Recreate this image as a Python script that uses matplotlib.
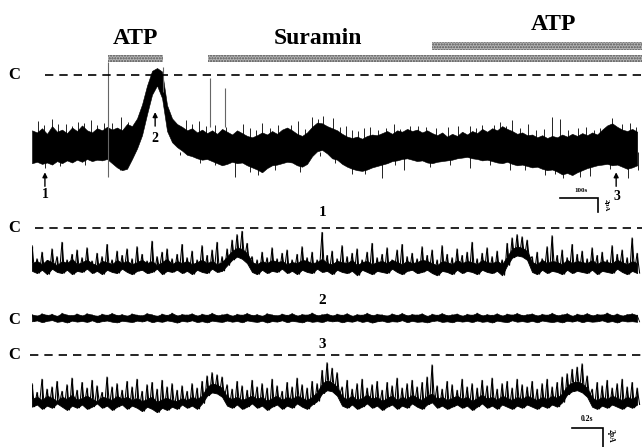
import numpy as np
import matplotlib
matplotlib.use("Agg")
import matplotlib.pyplot as plt

# ---------------- data (pA, closed level C = 0) ----------------
# long recording, sampled every 13.16 s
top_dt = 13.16
top_hi = [-7.9,-8.2,-7.6,-8.4,-7.3,-8.1,-7.8,-8.3,-7.5,-8.0,
          -7.2,-7.9,-8.2,-7.6,-7.9,-7.4,-7.8,-7.5,-7.9,-7.0,
          -7.3,-6.2,-4.2,-1.5,0.6,1.0,0.5,-4.3,-6.2,-7.0,
          -7.4,-7.9,-7.6,-8.2,-7.8,-8.3,-7.9,-8.4,-7.7,-8.1,
          -8.5,-7.9,-8.3,-8.7,-8.9,-8.6,-8.2,-8.5,-8.0,-8.4,
          -7.8,-7.5,-7.9,-8.4,-8.7,-8.2,-7.4,-6.8,-6.9,-7.3,
          -7.6,-7.9,-8.4,-8.8,-9.0,-8.8,-9.1,-8.7,-8.5,-8.6,
          -8.3,-8.0,-8.4,-7.9,-8.1,-7.7,-8.0,-7.8,-8.2,-7.9,
          -8.3,-8.6,-8.2,-8.8,-8.4,-8.7,-8.1,-8.5,-8.0,-8.3,
          -7.7,-8.1,-7.6,-7.9,-7.3,-7.7,-8.0,-8.4,-8.2,-8.6,
          -8.5,-8.9,-8.6,-9.0,-8.7,-8.9,-8.5,-8.8,-8.4,-8.7,
          -8.3,-8.6,-8.2,-8.5,-7.8,-7.2,-6.9,-7.4,-7.8,-8.0,
          -7.7,-8.1]
top_lo = [-12.6,-12.4,-12.7,-12.5,-12.8,-12.3,-12.6,-12.2,-12.5,-12.1,
          -12.4,-12.0,-12.3,-12.1,-12.2,-12.0,-12.6,-13.2,-13.6,-13.4,
          -12.0,-10.5,-8.6,-5.6,-2.8,-1.5,-3.3,-8.0,-9.6,-10.3,
          -10.8,-11.4,-11.6,-11.9,-12.1,-12.0,-12.3,-12.6,-12.9,-12.7,
          -12.4,-12.6,-12.5,-12.9,-13.2,-13.5,-13.9,-13.3,-12.9,-12.8,
          -12.6,-12.4,-12.5,-12.9,-13.1,-12.7,-11.6,-10.9,-10.7,-11.2,
          -11.9,-12.1,-12.7,-13.1,-13.4,-13.6,-13.7,-13.5,-13.2,-13.0,
          -12.8,-12.6,-12.3,-12.2,-12.0,-11.9,-12.1,-12.3,-12.2,-12.5,
          -12.6,-12.4,-12.3,-12.2,-12.1,-11.9,-11.8,-11.7,-11.9,-12.0,
          -12.2,-12.1,-12.3,-12.5,-12.6,-12.4,-12.7,-12.9,-12.8,-13.0,
          -13.2,-13.1,-13.4,-13.6,-13.5,-13.8,-14.2,-14.0,-14.3,-13.9,
          -13.6,-13.3,-13.1,-12.9,-12.8,-12.7,-12.9,-12.8,-13.1,-13.4,
          -13.2,-12.9]
up_spike_t = [16,53,89,121,155,190,234,405,440,555,605,647,700,737,766,792,826,
              889,953,1016,1095,1153,1184,1232,1263,1305,1369,1390,1458,1526,1574,
              32,68,105,137,171,211,253,421,458,482,511,574,590,626,663,682,718,753,
              811,842,858,874,911,932,968,995,1037,1063,1121,1169,1216,1248,1284,1327,
              1348,1411,1437,1479,1495,1553,1590]
up_spike_v = [-6.6,-6.3,-7.0,-6.7,-6.4,-6.9,-6.0,-6.4,-6.6,-7.0,-6.9,-7.1,-6.6,-6.0,-5.9,-6.1,-7.3,
              -7.4,-7.0,-7.3,-7.4,-7.3,-7.1,-6.7,-6.4,-7.0,-6.0,-6.3,-7.4,-6.1,-6.9,
              -7.2,-7.0,-7.3,-6.9,-7.1,-6.8,-6.7,-7.0,-7.3,-7.1,-7.4,-7.6,-7.9,-7.5,-7.8,-7.2,-7.7,-6.3,
              -7.4,-7.9,-8.0,-7.6,-7.8,-7.5,-7.7,-7.3,-7.4,-7.6,-7.3,-7.5,-7.1,-7.3,-7.6,-7.9,
              -7.7,-7.8,-7.5,-7.9,-7.6,-7.0,-7.4]
dn_spike_t = [34,232,534,595,705,842,921,979,1153,1258,1350,1397,1469,1569,
              74,139,390,442,482,574,640,758,797,876,955,1048,1100,1205,1298,1376,1442,1521,1595]
dn_spike_v = [-13.3,-13.6,-14.6,-14.3,-13.9,-14.1,-14.7,-13.6,-13.3,-13.6,-14.3,-14.7,-14.4,-14.7,
              -13.0,-12.9,-11.4,-12.6,-12.9,-13.8,-13.6,-11.6,-12.6,-14.2,-12.9,-13.1,-12.8,-12.9,
              -13.5,-14.2,-14.5,-13.4,-13.5]
artifact_t = [200,345,468,508]
artifact_top = [1.9,1.1,-0.4,-1.9]
artifact_bot = [-14.6,-2.4,-7.4,-7.4]

drugs = ["ATP", "Suramin", "ATP"]
drug_on = [200, 463, 1052]
drug_off = [345, 1605, 1605]

# expanded sweeps, sampled every 0.0323 s
sw_dt = 0.03226
sw1_hi = [-1.6,-2.8,-2.2,-3.0,-1.9,-2.6,-1.3,-2.9,-2.4,-2.0,
          -2.7,-1.8,-3.0,-2.3,-2.6,-1.5,-2.9,-2.1,-2.5,-1.9,
          -2.8,-1.7,-2.4,-3.0,-1.2,-2.6,-2.2,-1.9,-2.8,-2.4,
          -1.5,-2.7,-2.1,-2.9,-1.6,-2.5,-2.0,-1.3,-2.6,-1.9,
          -1.1,-0.6,-0.3,-1.4,-2.6,-2.9,-2.2,-2.7,-1.8,-2.8,
          -2.3,-2.0,-2.9,-2.4,-1.7,-2.7,-2.2,-2.9,-0.4,-2.5,
          -2.1,-2.8,-1.6,-2.6,-2.3,-1.9,-2.9,-2.2,-1.4,-2.7,
          -2.4,-1.8,-2.9,-2.0,-1.5,-2.6,-2.3,-2.8,-1.7,-2.5,
          -2.0,-2.9,-1.6,-2.4,-2.7,-1.9,-2.5,-2.2,-1.3,-2.8,
          -2.3,-1.8,-2.6,-2.1,-2.9,-1.4,-0.9,-0.6,-0.8,-1.1,
          -2.6,-2.2,-2.8,-1.7,-0.7,-2.5,-2.0,-2.7,-1.5,-2.4,
          -2.1,-2.8,-1.8,-2.5,-2.2,-2.9,-1.6,-2.4,-2.0,-2.7,
          -0.9,-2.3]
sw1_mid = [-3.2,-3.0,-3.3,-2.9,-3.1,-3.4,-3.0,-3.2,-2.8,-3.3,
           -3.1,-2.9,-3.2,-3.4,-3.0,-3.1,-3.3,-2.9,-3.2,-3.0,
           -3.3,-3.1,-2.9,-3.2,-3.0,-3.4,-3.1,-2.8,-3.3,-3.0,
           -3.2,-3.0,-3.3,-3.1,-2.9,-3.2,-3.0,-3.3,-3.1,-2.6,
           -2.1,-1.8,-1.9,-2.3,-3.1,-3.3,-3.0,-3.2,-2.9,-3.1,
           -3.0,-3.3,-3.1,-3.2,-2.9,-3.0,-3.2,-3.1,-2.8,-3.2,
           -3.3,-3.0,-3.1,-3.2,-2.9,-3.4,-3.1,-3.0,-3.3,-3.1,
           -3.0,-3.2,-2.9,-3.1,-3.3,-3.0,-3.2,-3.1,-2.9,-3.0,
           -3.2,-3.4,-3.0,-3.1,-3.3,-2.9,-3.2,-3.0,-3.1,-3.3,
           -2.9,-3.1,-3.2,-3.0,-3.3,-2.6,-1.9,-1.7,-1.8,-2.1,
           -3.1,-3.3,-2.9,-3.2,-3.0,-3.1,-3.3,-2.9,-3.2,-3.0,
           -3.1,-3.2,-2.9,-3.3,-3.0,-3.1,-3.2,-2.9,-3.1,-3.3,
           -3.0,-3.2]
sw1_lo = [-3.9,-4.1,-3.8,-4.2,-3.7,-4.0,-4.1,-3.8,-4.2,-3.9,
          -4.0,-3.7,-4.1,-3.9,-4.2,-3.8,-4.0,-4.1,-3.7,-4.0,
          -4.2,-3.9,-3.8,-4.1,-4.0,-3.7,-4.2,-3.9,-4.0,-3.8,
          -4.1,-3.9,-4.2,-3.8,-4.0,-4.1,-3.7,-4.0,-3.9,-3.4,
          -2.9,-2.6,-2.8,-3.2,-4.0,-4.2,-3.8,-4.1,-3.9,-4.0,
          -3.7,-4.1,-3.9,-4.2,-3.8,-4.0,-4.1,-3.7,-4.0,-3.9,
          -4.2,-3.8,-4.0,-4.1,-3.9,-4.3,-3.8,-4.0,-4.2,-3.9,
          -4.0,-4.1,-3.7,-4.0,-4.2,-3.9,-3.8,-4.1,-4.0,-3.8,
          -4.1,-4.3,-3.9,-4.0,-4.2,-3.8,-4.1,-3.9,-4.0,-4.2,
          -3.8,-4.0,-4.1,-3.9,-4.3,-3.4,-2.7,-2.5,-2.6,-2.9,
          -4.0,-4.2,-3.8,-4.1,-3.9,-4.0,-4.2,-3.8,-4.1,-3.9,
          -4.0,-4.1,-3.8,-4.2,-3.9,-4.0,-4.1,-3.7,-4.0,-4.2,
          -3.9,-4.1]
sw2_hi = [0.32,0.21,0.40,0.27,0.35,0.18,0.44,0.29,0.24,0.38,
          0.22,0.41,0.30,0.19,0.36,0.27,0.43,0.25,0.33,0.20,
          0.39,0.28,0.23,0.42,0.31,0.19,0.37,0.26,0.45,0.22,
          0.34,0.29,0.40,0.21,0.36,0.27,0.44,0.24,0.31,0.38,
          0.20,0.35,0.28,0.43,0.25,0.33,0.19,0.41,0.30,0.23,
          0.37,0.26,0.42,0.21,0.34,0.29,0.46,0.24,0.32,0.39,
          0.22,0.36,0.27,0.41,0.19,0.33,0.28,0.44,0.25,0.35,
          0.30,0.21,0.39,0.26,0.43,0.23,0.34,0.29,0.40,0.18,
          0.36,0.27,0.42,0.24,0.31,0.38,0.20,0.35,0.28,0.45,
          0.23,0.33,0.26,0.40,0.21,0.37,0.29,0.43,0.25,0.32,
          0.39,0.22,0.35,0.28,0.44,0.24,0.31,0.41,0.19,0.36,
          0.27,0.42,0.23,0.34,0.30,0.46,0.25,0.38,0.21,0.33,
          0.40,0.26]
sw2_lo = [-0.30,-0.22,-0.38,-0.26,-0.19,-0.35,-0.28,-0.41,-0.24,-0.33,
          -0.27,-0.36,-0.21,-0.39,-0.29,-0.23,-0.34,-0.40,-0.25,-0.31,
          -0.37,-0.24,-0.32,-0.20,-0.38,-0.28,-0.35,-0.22,-0.30,-0.42,
          -0.26,-0.33,-0.21,-0.37,-0.29,-0.40,-0.24,-0.31,-0.36,-0.23,
          -0.34,-0.27,-0.39,-0.22,-0.30,-0.36,-0.25,-0.41,-0.28,-0.33,
          -0.21,-0.38,-0.26,-0.32,-0.40,-0.24,-0.35,-0.29,-0.37,-0.22,
          -0.31,-0.25,-0.39,-0.28,-0.34,-0.21,-0.36,-0.27,-0.42,-0.30,
          -0.24,-0.37,-0.29,-0.33,-0.20,-0.38,-0.26,-0.35,-0.31,-0.40,
          -0.28,-0.22,-0.36,-0.30,-0.39,-0.25,-0.33,-0.27,-0.37,-0.23,
          -0.35,-0.29,-0.41,-0.24,-0.32,-0.38,-0.21,-0.34,-0.28,-0.36,
          -0.26,-0.39,-0.23,-0.31,-0.37,-0.29,-0.40,-0.25,-0.33,-0.22,
          -0.38,-0.27,-0.34,-0.30,-0.21,-0.36,-0.28,-0.41,-0.24,-0.32,
          -0.29,-0.35]
sw3_hi = [-2.6,-3.4,-2.2,-3.1,-2.9,-2.4,-3.3,-2.7,-2.1,-3.2,
          -2.5,-3.0,-2.3,-2.8,-3.4,-2.0,-2.9,-2.6,-3.2,-2.4,
          -2.9,-2.2,-3.3,-2.7,-2.5,-3.1,-2.3,-2.9,-2.6,-3.2,
          -2.8,-3.3,-2.6,-3.0,-2.4,-1.9,-1.6,-1.8,-2.0,-2.7,
          -3.1,-2.4,-2.8,-3.2,-2.3,-2.9,-2.6,-3.0,-2.2,-2.8,
          -3.3,-2.5,-2.9,-2.1,-2.7,-3.0,-2.4,-2.6,-1.4,-0.7,
          -1.2,-1.6,-2.9,-2.3,-3.1,-2.6,-2.2,-3.0,-2.7,-2.4,
          -3.2,-2.5,-2.8,-2.1,-3.0,-2.6,-2.3,-2.9,-2.5,-2.0,
          -0.9,-2.8,-3.1,-2.4,-2.7,-3.2,-2.2,-2.9,-2.6,-3.0,
          -2.3,-2.8,-2.1,-3.1,-2.6,-2.4,-3.0,-2.2,-2.7,-2.9,
          -2.4,-3.1,-2.6,-2.2,-2.9,-2.5,-2.0,-1.7,-1.3,-1.1,
          -0.8,-1.9,-3.1,-2.5,-2.8,-2.3,-3.0,-2.6,-2.2,-2.9,
          -2.5,-3.0]
sw3_mid = [-4.0,-3.8,-4.1,-3.7,-3.9,-4.2,-3.8,-4.0,-3.6,-4.1,
           -3.9,-3.7,-4.0,-4.2,-3.8,-3.9,-4.1,-3.7,-4.0,-3.8,
           -4.1,-3.9,-4.2,-4.0,-3.8,-4.3,-4.0,-3.9,-4.1,-4.2,
           -3.9,-4.1,-3.8,-4.0,-3.7,-2.9,-2.6,-2.7,-3.0,-3.8,
           -4.0,-3.8,-4.1,-3.9,-3.7,-4.0,-3.8,-4.2,-3.9,-3.7,
           -4.1,-3.8,-4.0,-3.7,-3.9,-4.1,-3.8,-3.4,-2.6,-2.3,
           -2.5,-2.9,-3.8,-4.0,-3.7,-4.1,-3.9,-3.6,-4.0,-3.8,
           -4.2,-3.9,-3.7,-4.1,-3.8,-4.0,-3.6,-3.9,-4.1,-3.7,
           -3.5,-4.0,-3.8,-4.1,-3.9,-3.7,-4.0,-3.8,-4.2,-3.9,
           -3.6,-4.0,-3.8,-4.1,-3.7,-3.9,-4.1,-3.8,-4.0,-3.7,
           -3.9,-4.1,-3.8,-4.0,-3.7,-3.9,-3.5,-2.8,-2.5,-2.4,
           -2.6,-3.0,-3.9,-4.1,-3.8,-4.0,-3.7,-3.9,-4.1,-3.8,
           -4.0,-3.7]
sw3_lo = [-4.7,-4.5,-4.9,-4.6,-4.8,-4.4,-4.7,-5.0,-4.6,-4.8,
          -4.5,-4.9,-4.7,-4.4,-4.8,-4.6,-5.0,-4.7,-4.5,-4.9,
          -4.6,-4.8,-5.1,-4.7,-4.9,-5.2,-4.8,-5.0,-4.7,-4.9,
          -4.5,-4.8,-4.6,-4.9,-4.4,-3.7,-3.4,-3.5,-3.8,-4.6,
          -4.8,-4.5,-4.9,-4.7,-4.4,-4.8,-4.6,-5.0,-4.7,-4.5,
          -4.9,-4.6,-4.8,-4.4,-4.7,-4.9,-4.5,-4.2,-3.5,-3.2,
          -3.3,-3.7,-4.6,-4.8,-4.5,-4.9,-4.7,-4.4,-4.8,-4.6,
          -5.0,-4.7,-4.5,-4.9,-4.6,-4.8,-4.4,-4.7,-4.9,-4.5,
          -4.3,-4.8,-4.6,-4.9,-4.7,-4.5,-4.8,-4.6,-5.0,-4.7,
          -4.4,-4.8,-4.6,-4.9,-4.5,-4.7,-4.9,-4.6,-4.8,-4.5,
          -4.7,-4.9,-4.6,-4.8,-4.5,-4.7,-4.3,-3.6,-3.3,-3.2,
          -3.4,-3.8,-4.7,-4.9,-4.6,-4.8,-4.5,-4.7,-4.9,-4.6,
          -4.8,-4.5]

# ---------------- layout ----------------
W, H = 642, 447
fig = plt.figure(figsize=(6.42, 4.47), dpi=100)
SERIF = ["Liberation Serif", "DejaVu Serif"]

def fx(px):
    return px / W

def fy(py):
    return 1 - py / H

def make_axes(x0, x1, y0, y1):
    ax = fig.add_axes([fx(x0), fy(y1), (x1 - x0) / W, (y1 - y0) / H])
    ax.set_axis_off()
    ax.patch.set_alpha(0)
    return ax

def ftext(px, py, s, size, **kw):
    fig.text(fx(px), fy(py), s, fontsize=size, fontweight="bold",
             family=SERIF, ha=kw.pop("ha", "center"), va=kw.pop("va", "center"), **kw)

DASH = (0, (5, 3.6))

# ---- top long recording ----
ax0 = make_axes(32, 642, 20, 215)
ax0.set_xlim(0, 1605)
ax0.set_ylim(-20, 7.86)
t0 = np.arange(len(top_hi)) * top_dt
ax0.fill_between(t0, top_lo, top_hi, color="black", lw=0.4)
ax0.vlines(up_spike_t, up_spike_v, -9.5, color="black", lw=0.6)
ax0.vlines(dn_spike_t, -11.0, dn_spike_v, color="black", lw=0.6)
ax0.vlines(artifact_t, artifact_bot, artifact_top, color="#666666", lw=0.8)
ax0.plot([34, 1605], [0, 0], color="black", lw=1.2, ls=DASH)
for on, off, name in zip(drug_on, drug_off, drugs):
    y = (3.6, 1.1) if (name == "ATP" and on > 1000) else (1.86, 1.0)
    ax0.broken_barh([(on, off - on)], y, facecolor="#b4b4b4",
                    edgecolor="#555555", hatch="......", lw=0)
# arrows
for ta, yb, yt in [(34, -15.9, -13.9), (324, -7.3, -5.3), (1537, -15.9, -13.9)]:
    ax0.annotate("", xy=(ta, yt), xytext=(ta, yb),
                 arrowprops=dict(arrowstyle="-|>", color="black", lw=1.0,
                                 mutation_scale=7, shrinkA=0, shrinkB=0))
# scale bar 100 s / 2 pA
ax0.plot([1390, 1490, 1490], [-17.6, -17.6, -19.6], color="black", lw=1.2,
         solid_joinstyle="miter")

# ---- expanded sweeps ----
def sweep(ax, hi, lo, mid=None):
    n = len(hi)
    ti = np.arange(n) * sw_dt
    t = np.empty(2 * n)
    v = np.empty(2 * n)
    t[0::2] = ti
    t[1::2] = ti + 0.5 * sw_dt
    v[0::2] = hi
    v[1::2] = lo
    if mid is None:
        ax.fill_between(ti, lo, hi, color="black", lw=0.5)
        ax.plot(t, v, color="black", lw=0.6)
    else:
        ax.fill_between(ti, lo, mid, color="black", lw=0.6)
        ax.vlines(ti, mid, hi, color="black", lw=0.9)
        ax.plot(t, v, color="black", lw=0.75)

ax1 = make_axes(32, 642, 215, 290)
ax1.set_xlim(0, 3.935)
ax1.set_ylim(-5.64, 1.18)
sweep(ax1, sw1_hi, sw1_lo, sw1_mid)
ax1.plot([0.02, 3.935], [0, 0], color="black", lw=1.2, ls=DASH)

ax2 = make_axes(32, 642, 300, 336)
ax2.set_xlim(0, 3.935)
ax2.set_ylim(-1.64, 1.64)
sweep(ax2, sw2_hi, sw2_lo)

ax3 = make_axes(32, 642, 340, 447)
ax3.set_xlim(0, 3.935)
ax3.set_ylim(-8.36, 1.36)
sweep(ax3, sw3_hi, sw3_lo, sw3_mid)
ax3.plot([-0.01, 3.935], [0, 0], color="black", lw=1.2, ls=DASH, clip_on=False)
ax3.plot([3.484, 3.684, 3.684], [-6.64, -6.64, -8.64], color="black", lw=1.2,
         solid_joinstyle="miter", clip_on=False)

# ---- text ----
ftext(135, 38, "ATP", 17)
ftext(318, 38, "Suramin", 17)
ftext(553, 25, "ATP", 17)
for yc in (75, 228, 320, 355):
    ftext(14, yc, "C", 12)
ftext(45, 195, "1", 10)
ftext(155, 138, "2", 10)
ftext(617, 197, "3", 10)
ftext(323, 213, "1", 11)
ftext(322, 300, "2", 11)
ftext(322, 345, "3", 11)
ftext(581, 191, "100s", 5)
ftext(606, 205, "2pA", 5, rotation=270)
ftext(587, 419, "0.2s", 5.5)
ftext(611, 436, "2pA", 5.5, rotation=270)

fig.savefig("out.png", dpi=100)
